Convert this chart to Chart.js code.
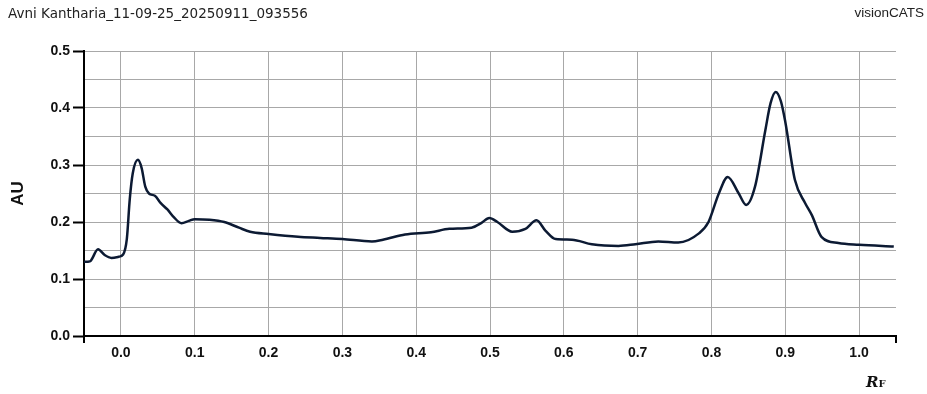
<!DOCTYPE html>
<html>
<head>
<meta charset="utf-8">
<script src="https://cdn.jsdelivr.net/npm/chart.js@4.4.1/dist/chart.umd.min.js"></script>
<style>
  html, body { margin: 0; padding: 0; background: #fff; }
  #wrap { position: relative; width: 927px; height: 394px; overflow: hidden; }
  #chart { position: absolute; left: 0; top: 0; }
  .head { position: absolute; top: 5px; color: #222; white-space: nowrap; }
  #name { left: 8px; font: 13.5px "DejaVu Sans", Verdana, sans-serif; }
  #brand { right: 3px; font: 13.5px "Liberation Sans", Arial, sans-serif; }
  #rf { position: absolute; left: 866px; top: 373px; font: bold italic 15px "DejaVu Serif", "Liberation Serif", serif; color: #111; }
  #rf span { font-style: normal; font-size: 10px; }
</style>
</head>
<body>
<div id="wrap">
  <canvas id="chart" width="927" height="394"></canvas>
  <div class="head" id="name">Avni Kantharia_11-09-25_20250911_093556</div>
  <div class="head" id="brand">visionCATS</div>
  <div id="rf">R<span>F</span></div>
</div>
<script>
// densitogram track
const rf = [-0.05, -0.042, -0.031, -0.022, -0.013, -0.003, 0.003, 0.008, 0.012, 0.016,
    0.023, 0.028, 0.033, 0.038, 0.046, 0.054, 0.063, 0.072, 0.082, 0.092,
    0.100, 0.120, 0.140, 0.160, 0.175, 0.200, 0.240, 0.270, 0.300, 0.340,
    0.355, 0.385, 0.420, 0.445, 0.475, 0.488, 0.499, 0.510, 0.530, 0.548,
    0.563, 0.575, 0.589, 0.611, 0.638, 0.674, 0.697, 0.728, 0.755, 0.783,
    0.796, 0.810, 0.822, 0.837, 0.847, 0.859, 0.873, 0.880, 0.887, 0.894,
    0.900, 0.913, 0.927, 0.936, 0.949, 0.972, 1.000, 1.047];
const au = [0.130, 0.131, 0.152, 0.142, 0.137, 0.139, 0.143, 0.170, 0.240, 0.285,
    0.309, 0.295, 0.262, 0.250, 0.246, 0.233, 0.222, 0.208, 0.198, 0.202,
    0.205, 0.204, 0.200, 0.190, 0.183, 0.179, 0.174, 0.172, 0.170, 0.166,
    0.169, 0.178, 0.182, 0.188, 0.190, 0.198, 0.207, 0.200, 0.183, 0.188,
    0.203, 0.185, 0.170, 0.169, 0.161, 0.158, 0.161, 0.166, 0.164, 0.180,
    0.200, 0.250, 0.279, 0.250, 0.230, 0.262, 0.361, 0.408, 0.428, 0.412,
    0.376, 0.274, 0.233, 0.212, 0.174, 0.163, 0.160, 0.157];
const xTicks = [0.0, 0.1, 0.2, 0.3, 0.4, 0.5, 0.6, 0.7, 0.8, 0.9, 1.0];

const isMajor = v => Math.round(v * 100) % 10 === 0;

// little end ticks on the axes
const endTicks = {
    id: 'endTicks',
    afterDraw(chart) {
        const a = chart.chartArea, c = chart.ctx;
        c.save();
        c.strokeStyle = '#000';
        c.lineWidth = 2;
        c.beginPath();
        c.moveTo(a.left, a.bottom); c.lineTo(a.left, a.bottom + 7);
        c.moveTo(a.right, a.bottom - 1); c.lineTo(a.right, a.bottom + 7);
        c.stroke();
        c.restore();
    }
};

new Chart(document.getElementById('chart'), {
    type: 'scatter',
    data: {
        datasets: [{
            data: rf.map((x, i) => ({ x: x, y: au[i] })),
            showLine: true,
            borderColor: '#0c1a33',
            borderWidth: 2.5,
            pointRadius: 0,
            cubicInterpolationMode: 'monotone'
        }]
    },
    options: {
        responsive: false,
        animation: false,
        layout: { padding: { left: 0, top: 51, right: 31, bottom: 0 } },
        plugins: { legend: { display: false }, tooltip: { enabled: false } },
        scales: {
            x: {
                type: 'linear',
                min: -0.05,
                max: 1.05,
                afterBuildTicks: s => { s.ticks = xTicks.map(v => ({ value: v })); },
                afterFit: s => { s.height = 58; },
                border: { color: '#000', width: 2 },
                grid: { color: '#a8a8a8', drawTicks: false },
                ticks: {
                    padding: 9,
                    color: '#111',
                    font: { family: 'Liberation Sans, Arial', size: 14, weight: 'bold' },
                    callback: v => v.toFixed(1)
                }
            },
            y: {
                min: 0,
                max: 0.5,
                afterFit: s => { s.width = 84; },
                border: { color: '#000', width: 2 },
                grid: {
                    color: '#a8a8a8',
                    tickLength: 11,
                    tickColor: ctx => (ctx.tick && isMajor(ctx.tick.value)) ? '#000' : 'rgba(0,0,0,0)',
                    tickWidth: 2
                },
                title: {
                    display: true,
                    text: 'AU',
                    color: '#111',
                    padding: { top: 8, bottom: 0 },
                    font: { family: 'Liberation Sans, Arial', size: 17, weight: 'bold' }
                },
                ticks: {
                    stepSize: 0.05,
                    padding: 3,
                    color: '#111',
                    font: { family: 'Liberation Sans, Arial', size: 14, weight: 'bold' },
                    callback: v => isMajor(v) ? v.toFixed(1) : ''
                }
            }
        }
    },
    plugins: [endTicks]
});
</script>
</body>
</html>
